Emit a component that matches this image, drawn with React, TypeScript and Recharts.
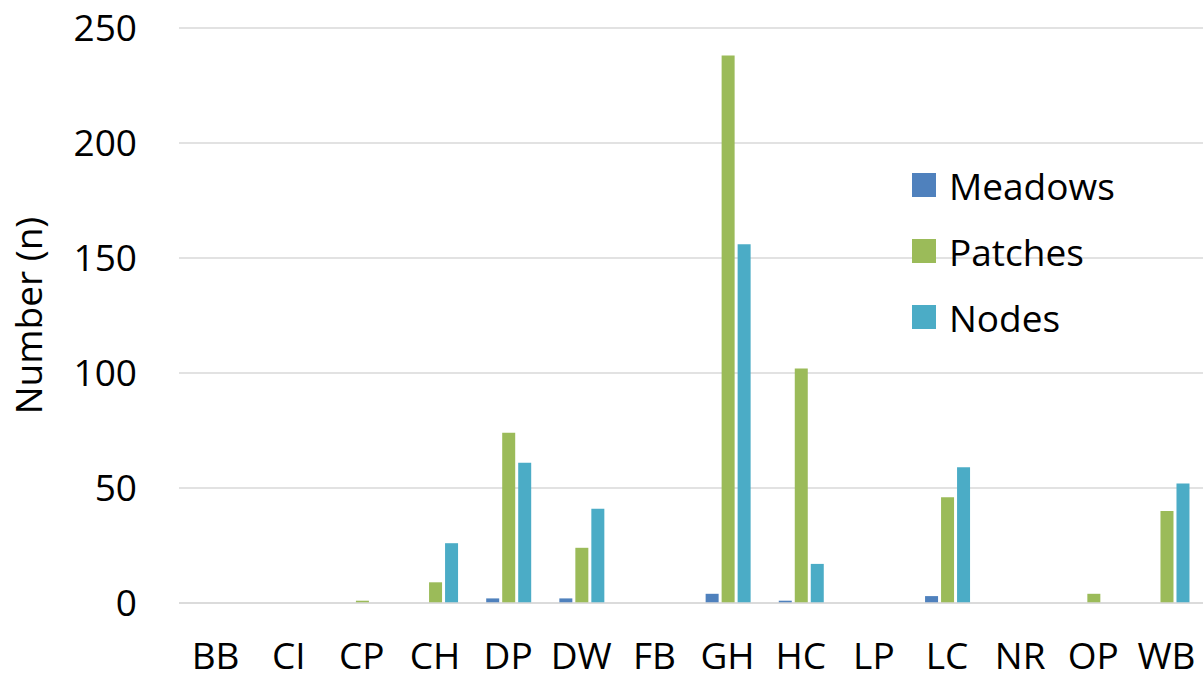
import { BarChart, Bar, XAxis, YAxis, CartesianGrid, Legend, Label } from "recharts";

const sites = ["BB", "CI", "CP", "CH", "DP", "DW", "FB", "GH", "HC", "LP", "LC", "NR", "OP", "WB"];
const meadows = [0, 0, 0, 0, 2, 2, 0, 4, 1, 0, 3, 0, 0, 0];
const patches = [0, 0, 1, 9, 74, 24, 0, 238, 102, 0, 46, 0, 4, 40];
const nodes = [0, 0, 0, 26, 61, 41, 0, 156, 17, 0, 59, 0, 0, 52];
const yTicks = [0, 50, 100, 150, 200, 250];

const series = [
  { key: "Meadows", color: "#4f81bd" },
  { key: "Patches", color: "#9bbb59" },
  { key: "Nodes", color: "#4bacc6" },
];

const data = sites.map((site, i) => ({
  site,
  Meadows: meadows[i],
  Patches: patches[i],
  Nodes: nodes[i],
}));

const font = "'Open Sans', sans-serif";
const fontSize = 37;

// legend drawn as a plain list in series order, Excel style squares
const renderLegend = () => (
  <div style={{ fontFamily: font, fontSize, color: "#000", textAlign: "left" }}>
    {series.map((s) => (
      <div key={s.key} style={{ display: "flex", alignItems: "center", height: 66 }}>
        <span style={{ width: 24, height: 24, background: s.color, marginRight: 13, display: "inline-block" }} />
        {s.key}
      </div>
    ))}
  </div>
);

export default function App() {
  return (
    <div style={{ position: "absolute", left: 0, top: 0, background: "#fff" }}>
      <BarChart
        width={1204}
        height={674}
        data={data}
        margin={{ top: 28, right: 1, bottom: 0, left: 0 }}
        barCategoryGap="20%"
        barGap={3}
      >
        <CartesianGrid vertical={false} stroke="#d9d9d9" strokeWidth={1.5} />
        <XAxis
          dataKey="site"
          height={71}
          axisLine={{ stroke: "#d9d9d9", strokeWidth: 1.5 }}
          tickLine={false}
          tickSize={0}
          tickMargin={40}
          interval={0}
          tick={{ fill: "#000", fontFamily: font, fontSize }}
        />
        <YAxis
          width={179}
          domain={[0, 250]}
          ticks={yTicks}
          axisLine={false}
          tickLine={false}
          tickSize={0}
          tickMargin={42}
          tick={{ fill: "#000", fontFamily: font, fontSize }}
        >
          <Label
            value="Number (n)"
            angle={-90}
            position="center"
            dx={-61}
            style={{ fill: "#000", fontFamily: font, fontSize, textAnchor: "middle" }}
          />
        </YAxis>
        <Legend
          layout="vertical"
          verticalAlign="middle"
          align="center"
          content={renderLegend}
          wrapperStyle={{ left: 912, top: 152, width: 270 }}
        />
        {series.map((s) => (
          <Bar key={s.key} dataKey={s.key} fill={s.color} isAnimationActive={false} />
        ))}
      </BarChart>
    </div>
  );
}
